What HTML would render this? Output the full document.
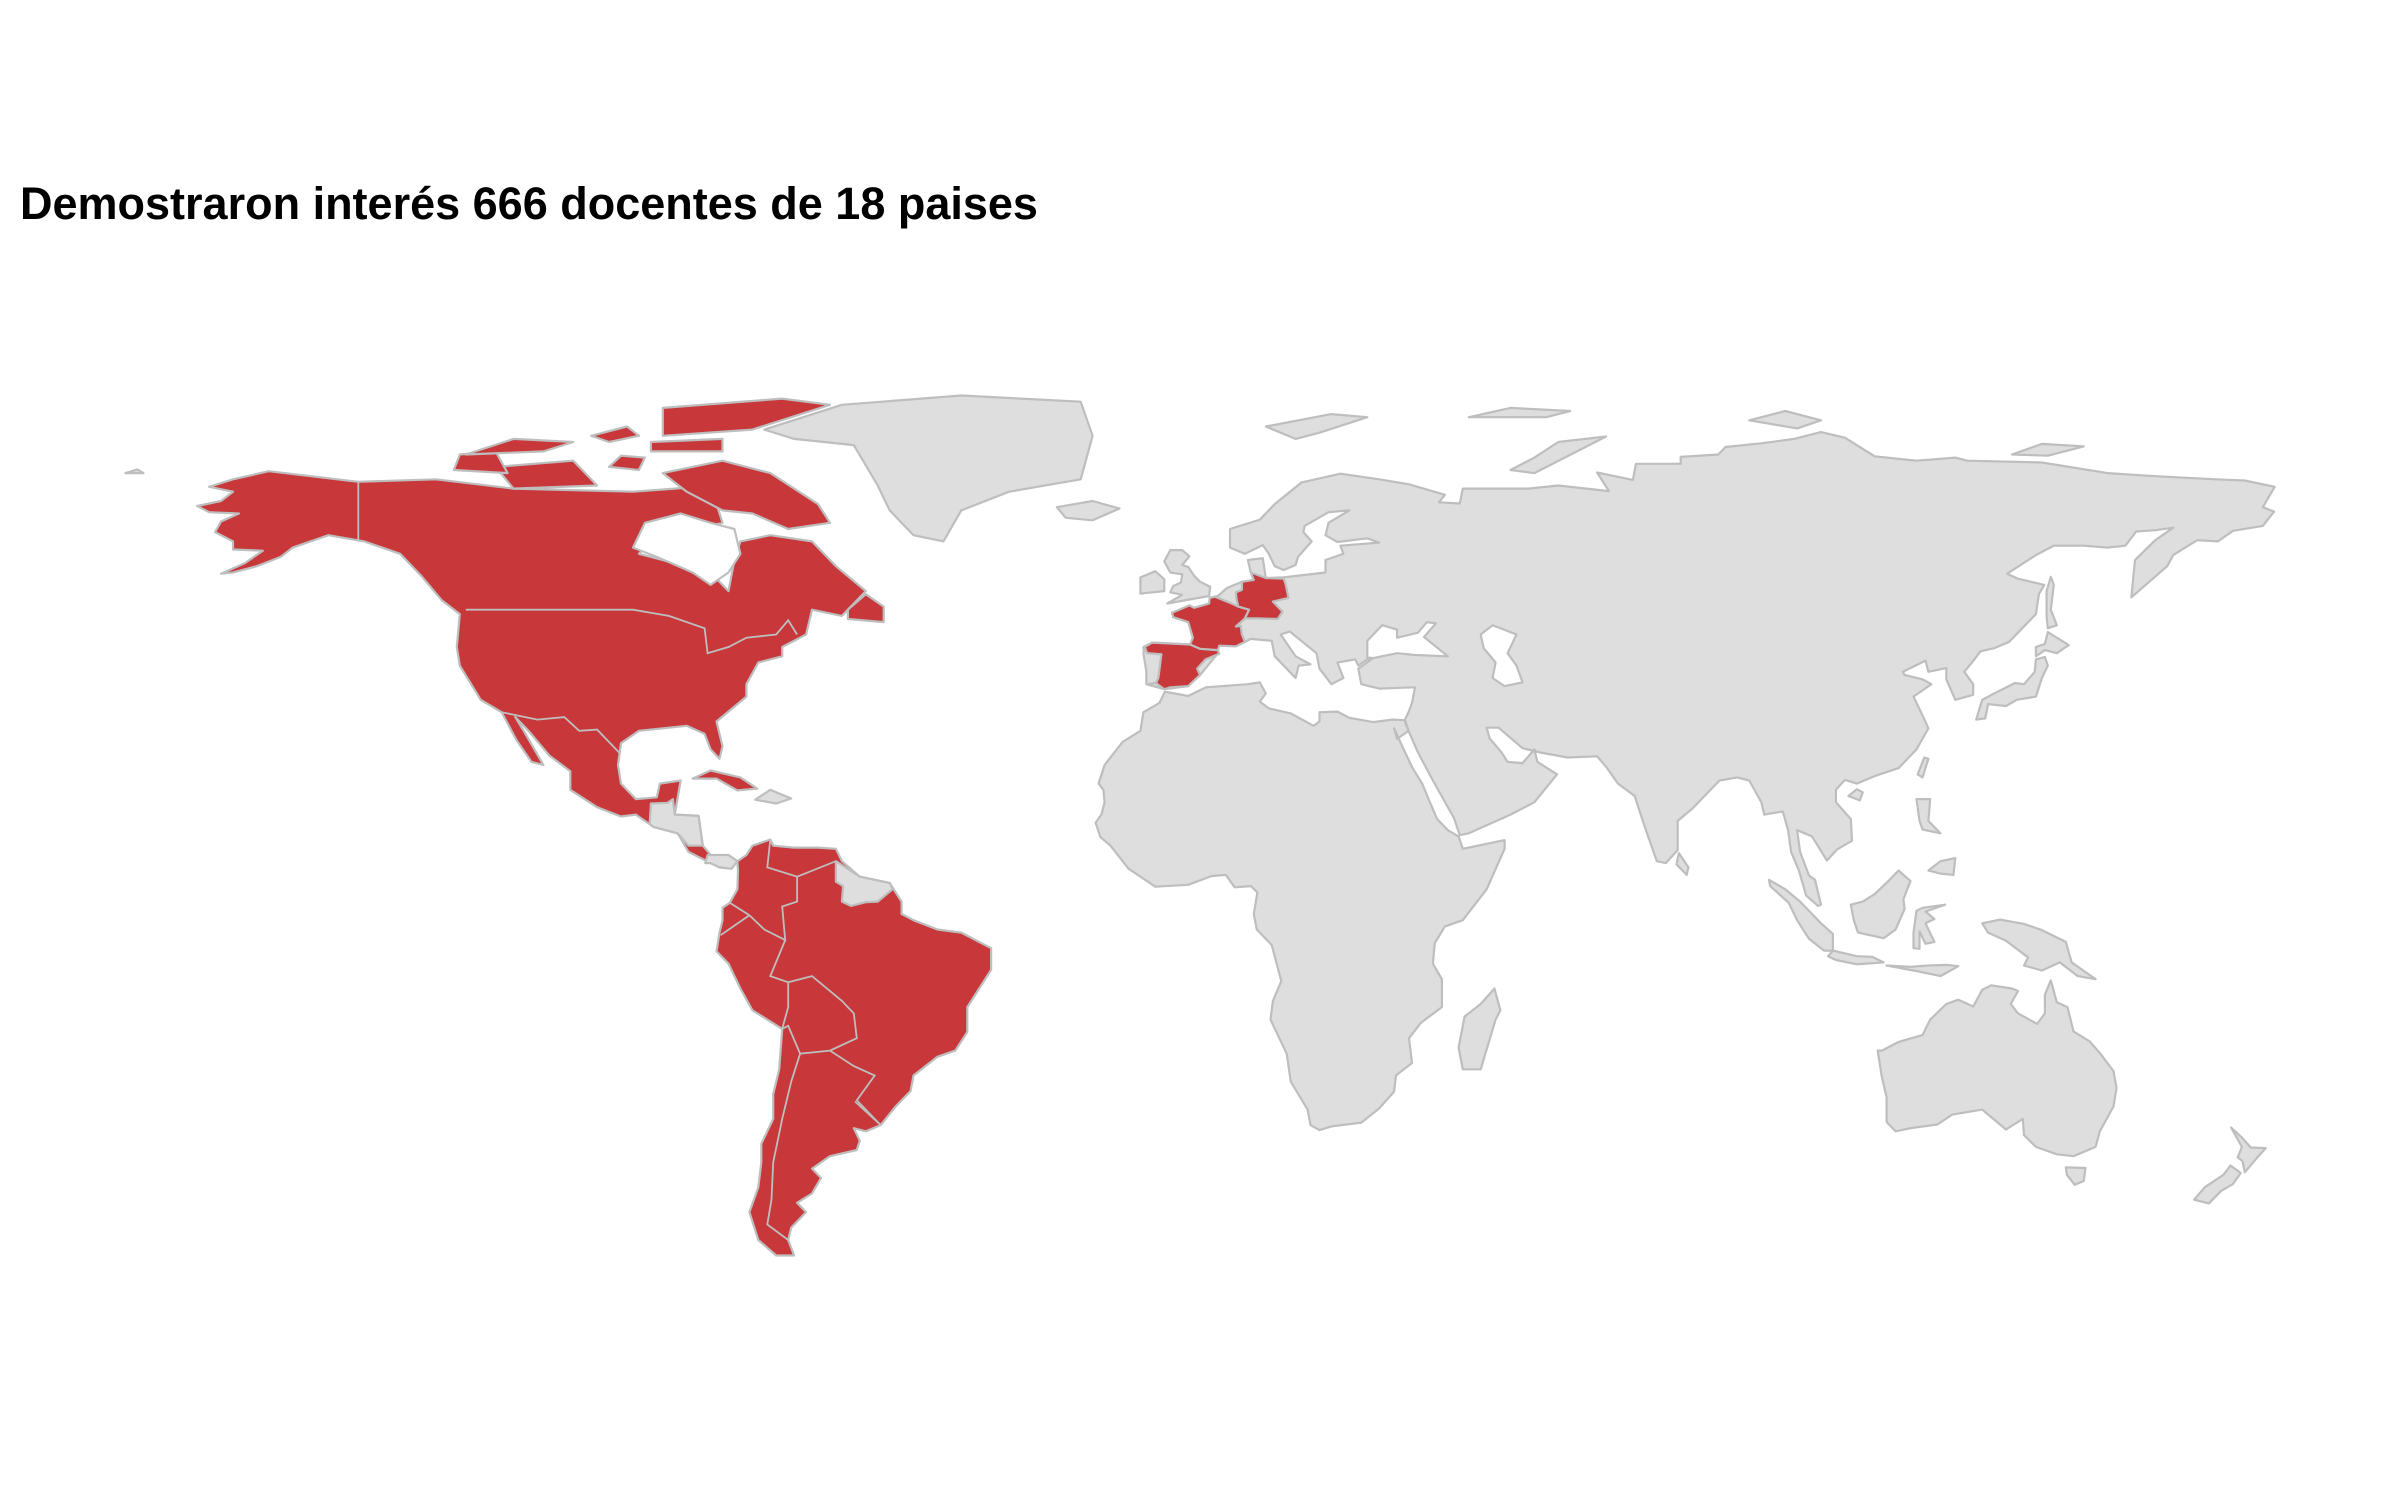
<!DOCTYPE html>
<html><head><meta charset="utf-8"><title>Mapa docentes</title>
<style>
html,body{margin:0;padding:0;background:#fff;}
#wrap{position:relative;width:2400px;height:1500px;overflow:hidden;}
#title{position:absolute;left:20px;top:178px;font:bold 45px "Liberation Sans",sans-serif;color:#000;white-space:nowrap;}
svg{position:absolute;left:0;top:0;}
</style></head>
<body>
<div id="wrap">
<div id="title">Demostraron interés 666 docentes de 18 paises</div>
<svg id="map" width="2400" height="1500"></svg>
</div>
<script>
// highlighted countries (data)
const highlighted = ["north-america","cuba","costa-rica","south-america","spain","france","germany","canada-arctic"];
const lakes = ["hudson-bay","caspian-sea","black-sea"];
const shapes = [
 ["north-america",[[-168,65.7],[-164,66.5],[-162,68],[-166,68.8],[-162,70],[-156,71.3],[-141,69.6],[-128,70],[-115,68.5],[-95,68],[-88,68.5],[-82,69],[-80,63],[-92,60],[-94,58],[-90,57],[-82,55],[-79,52],[-78,57],[-77,60],[-72,61],[-65,60],[-61,56],[-56,52],[-60,48],[-65,49],[-66,45],[-70,43],[-70,41.5],[-74,40.5],[-76,37],[-76,35],[-81,31],[-80,27],[-80.5,25],[-82,26.5],[-83,29],[-86,30.3],[-89,30],[-94,29.5],[-97,27.5],[-97.5,24],[-97,21],[-94.5,18.5],[-91,18.8],[-90.5,21],[-87,21.5],[-88,16],[-84,15.8],[-83.3,11],[-81.5,9],[-79,9.5],[-77.5,8.5],[-78.5,7.3],[-80.5,7.5],[-82,8.2],[-85.7,10],[-87.5,13],[-91.5,14],[-94.5,16],[-97,15.7],[-101,17.2],[-105.5,20],[-105.5,23],[-109,25.5],[-112.5,29.5],[-114.7,31.7],[-113,29],[-110,24],[-112,24.5],[-114.5,28],[-117,32.5],[-120.5,34.5],[-124,40],[-124.5,43],[-124,48.3],[-127,50.5],[-130.5,54.5],[-134,58],[-140,60],[-146,61],[-152,59],[-154,57.5],[-158,56],[-162,55],[-164,54.8],[-160,56.5],[-157,58.5],[-162,58.7],[-162,60],[-165,61.5],[-164,63.2],[-161,64.5],[-166,64.7]]],
 ["hudson-bay",[[-95,59],[-93,63],[-87,64.5],[-82,63],[-78,62],[-77,58],[-79,55],[-82,53],[-85,55],[-91,57.5]]],
 ["canada-arctic",[[-80,73],[-72,71],[-64,66],[-62,63],[-69,62],[-75,64.5],[-80,65],[-86,68],[-90,71]]],
 ["canada-arctic",[[-118,72],[-105,73],[-101,69],[-115,68.5]]],
 ["canada-arctic",[[-125,71.5],[-116,71],[-118,74.5],[-124,74]]],
 ["canada-arctic",[[-90,77],[-75,78],[-62,82],[-70,83],[-90,81.5]]],
 ["canada-arctic",[[-123,74],[-115,76.5],[-105,76],[-110,74.5]]],
 ["canada-arctic",[[-102,77],[-96,78.5],[-94,77],[-99,76]]],
 ["canada-arctic",[[-92,76],[-80,76.5],[-80,74.5],[-92,74.5]]],
 ["canada-arctic",[[-97,73.8],[-93,73.5],[-94,71.5],[-99,72]]],
 ["canada-arctic",[[-59,47.5],[-53,47],[-53,49.5],[-56,51.5],[-59,49]]],
 ["central-america",[[-92.2,14.5],[-92,17.8],[-89.2,17.9],[-88.3,18.5],[-88,16],[-84,15.8],[-83.3,11],[-85.7,11],[-87.5,13],[-91.5,14]]],
 ["panama",[[-82.9,8.2],[-82.5,9.5],[-79,9.5],[-77.5,8.5],[-78.5,7.3],[-80.5,7.5],[-82,8.2]]],
 ["greenland",[[-73,78],[-60,82],[-40,83.5],[-20,82.5],[-18,77],[-20,70],[-32,68],[-40,65],[-43,60],[-48,61],[-52,65],[-54,69],[-58,75.5],[-68,76.5]]],
 ["cuba",[[-85,21.8],[-82,23.1],[-77,22],[-74.2,20.2],[-77.5,19.9],[-81,21.8]]],
 ["hispaniola",[[-74.5,18.4],[-72,20],[-68.5,18.6],[-71,17.8]]],
 ["south-america",[[-77.5,8.5],[-76,9.5],[-75,11],[-72,12],[-71.5,11],[-68,10.7],[-64,10.7],[-61,10.5],[-60,8.5],[-57,6],[-52,5],[-50,2],[-50,0],[-48,-1],[-44,-2.5],[-40,-3],[-35,-5.5],[-35,-9],[-37,-12],[-39,-15],[-39,-19],[-41,-22],[-44,-23],[-48,-26],[-48.5,-28.5],[-51,-31],[-53.5,-34],[-56,-35],[-58,-34.5],[-57,-36.5],[-57.5,-38],[-62,-39],[-65,-41],[-63.5,-42.5],[-65,-45],[-67.5,-46.5],[-66,-48],[-68.5,-50.5],[-69,-52.5],[-68,-55],[-71,-55],[-74,-52.5],[-75.5,-48],[-74,-44],[-73.5,-40],[-73.5,-37],[-71.5,-33],[-71.5,-29],[-70.5,-25],[-70,-18.5],[-75,-15.5],[-77,-12],[-79,-8],[-81,-6],[-80.5,-3],[-80,-1],[-80,1],[-78.8,1.8],[-77.5,4],[-77.4,7]]],
 ["guianas",[[-61,8.5],[-57,6],[-52,5],[-51.5,4],[-54,2],[-56,1.9],[-58.5,1.3],[-60,2],[-59.8,4.5],[-61,5.2]]],
 ["eurasia",[[-9.5,43],[-9,39],[-9,37],[-6,36.2],[-2,36.7],[0,38.5],[3,42],[3,43.2],[6,43.1],[8.5,44.3],[12,44],[12.5,41.5],[16,38],[16.5,40],[18.5,40.2],[16,41.5],[13.5,45],[15,45.5],[19.5,42],[20,39.5],[22,37],[24,38],[23,40.5],[26,41],[26.5,40],[28,41],[29,41.2],[26.5,39.5],[27,37],[30,36.3],[36,36.5],[35.5,34],[34.9,32.5],[34.3,31.3],[34.9,29.5],[36.5,26],[39,21.5],[42.5,15.5],[43.5,12.7],[45,13],[52,16],[56,18],[59.8,22.5],[56.5,24.5],[56,26.5],[54,24.3],[51.5,24.5],[50.5,26],[48.5,28.3],[48,30],[50,30],[54,26.7],[57,26],[61.5,25.2],[66.5,25.4],[68,23.7],[70,21],[72.8,19],[74.5,14],[76.5,8.5],[78,8.2],[80,10.3],[80,15],[82.5,17],[87,21.5],[90,22],[92,21.5],[94,18],[94.5,16],[97.6,16.5],[98.5,13.5],[99,10],[100.3,7],[101.5,3],[103.5,1.3],[104,1.5],[103,5.5],[102,6.2],[100.5,10],[100,13.5],[102.5,12.5],[105,8.6],[106.7,10.4],[109.2,11.8],[109,15.3],[106.5,18],[106.5,20],[108,21.6],[110,21],[113,22.2],[117,23.5],[120,26.5],[122,29.9],[121,32],[119.5,35],[122.5,37],[121,37.8],[118,38.5],[117.7,39],[121.5,40.8],[122,39],[125,39.6],[125,37.8],[126.5,34.5],[129.5,35.3],[129.5,37],[128,39],[129.7,41],[130.7,42.3],[133,42.8],[135.5,43.8],[140,48.3],[140.5,51.5],[141.4,53],[137,54],[135.2,54.8],[140,57.8],[143,59.3],[148,59.3],[152,59],[155,59.3],[156.8,61.6],[160,61.8],[163,62.2],[160,60.2],[156.6,57],[156,51],[162,56],[163,57.8],[167,60.2],[170.5,60],[173,61.7],[178,62.5],[179.9,64.8],[178,65.5],[180,68.8],[175,69.8],[170,70],[160,70.5],[152,71],[141,72.7],[128.5,73],[126.5,73.5],[120,73],[113,73.7],[108,76.7],[104,77.6],[99.5,76.5],[94,75.8],[88,75.2],[86.8,74],[80.5,73.6],[80.5,72.5],[73,72.5],[72.5,69.9],[66.5,71.1],[68.5,68.1],[60,69],[55,68.5],[53.5,68.5],[44,68.5],[43.5,66.1],[40,66.3],[41,67.5],[35,69.2],[30,70],[23.5,70.9],[17,69.5],[12.5,66],[10,63.5],[5,62],[5,59],[7.5,58],[10.5,59.4],[11.5,58],[12.5,56],[14,55.4],[16,56.2],[16.4,57.5],[18.7,60],[17.3,61.5],[17.5,62.5],[21.5,64.7],[25,65],[21.5,63],[21,61],[23,59.9],[28,60.5],[30,59.8],[23.5,59.3],[24,58],[21,57],[21,56],[21,55],[14,54.2],[11,54.1],[10.5,57.3],[8,57],[8.5,55],[9,53.8],[7,53.5],[4.5,52.5],[3,51.2],[1.6,50.9],[1.5,50],[-1,49.3],[-1.8,49.7],[-4.5,48.5],[-4.5,47.8],[-2,47],[-1.2,44.5],[-1.7,43.4],[-8,43.7]]],
 ["caspian-sea",[[47,45],[49,46.5],[53,45],[51.5,42],[53,40],[54,37.3],[51,36.7],[49,38],[49.5,40.5],[47.5,42.8]]],
 ["black-sea",[[28,41.3],[28,44],[30.5,46.5],[33,45.8],[33,44.5],[36.5,45.3],[38,47],[39.5,46.8],[37.5,44.6],[41.5,41.5],[36,41.7],[33,42],[29,41.2]]],
 ["spain",[[-9.3,43],[-8.9,42],[-6.5,41.8],[-7,38],[-7.4,37.2],[-6,36.2],[-5,36.5],[-2,36.7],[0,38.5],[-0.5,39.5],[0.9,41],[3.2,41.9],[3,42.5],[0,42.7],[-1.7,43.4],[-8,43.7]]],
 ["portugal",[[-9.3,43],[-8.9,42],[-6.5,41.8],[-7,38],[-7.4,37.2],[-9,37],[-9,39],[-9.5,42]]],
 ["france",[[-1.7,43.4],[0,42.7],[3,42.5],[3.2,43.2],[6,43.1],[7.5,43.8],[7,45],[6.8,46.4],[6,46.3],[7.5,47.6],[8.2,49],[6.4,49.5],[4.8,50.2],[2.5,51.1],[1.6,50.9],[1.5,50],[-1,49.3],[-1.8,49.7],[-4.7,48.5],[-4.5,47.8],[-2,47],[-1.2,44.5]]],
 ["germany",[[6,51.8],[6.1,50.7],[6.4,49.5],[8.2,49],[7.5,47.6],[9.5,47.6],[13,47.5],[13.8,48.7],[12.2,50.3],[14.8,50.9],[14.3,53.2],[14,54],[11,54.1],[8.5,55],[9,53.8],[7,53.5],[7,52.2]]],
 ["great-britain",[[-5.5,50],[1.5,51.2],[1.7,52.7],[0,53.5],[-1,54.5],[-2,55.9],[-3,56.2],[-1.8,57.6],[-3,58.6],[-5,58.6],[-6,56.8],[-5,55],[-3,54.7],[-3.2,53.4],[-4.5,52.8],[-5,51.8],[-3,51.4]]],
 ["ireland",[[-10,51.6],[-6,52],[-6,53.9],[-7.5,55.2],[-10,54.2]]],
 ["iceland",[[-24,65.5],[-18,66.5],[-13.5,65.3],[-18,63.4],[-22.5,63.8]]],
 ["svalbard",[[11,78.5],[22,80.5],[28,80],[20,77.5],[16,76.5]]],
 ["franz-josef",[[45,80],[52,81.5],[62,81],[58,80]]],
 ["severnaya-zemlya",[[92,79.5],[98,81],[104,79.5],[100,78.2]]],
 ["new-siberian",[[136,74],[141,75.7],[148,75.3],[142,73.8]]],
 ["wrangel",[[-180,71],[-178,71.6],[-177,71]]],
 ["novaya-zemlya",[[52,71.5],[56,73.5],[60,76],[68,76.9],[56,71]]],
 ["japan",[[130,31.3],[131.5,31.5],[132,33.8],[135,33.5],[136.8,34.5],[140,35],[141,38],[142,40],[141.5,41.4],[140,41],[139.8,39],[138,37],[136.5,37.2],[133,35.5],[131,34.5]]],
 ["hokkaido",[[140,41.5],[141.5,42.5],[143.5,42],[145.5,43.3],[142,45.4],[141.5,43.5],[140,43]]],
 ["sakhalin",[[142,46],[143.5,46.5],[142.5,49],[143,53],[142.5,54.3],[141.8,52],[141.8,48]]],
 ["taiwan",[[120.2,22.5],[121,22],[122,25],[121.3,25.2]]],
 ["hainan",[[108.6,19],[110.5,18.3],[111,19.6],[110,20.1]]],
 ["sri-lanka",[[79.8,8],[81.5,6.3],[81.8,7.5],[80.2,9.8]]],
 ["africa",[[-17,21],[-16,24],[-13,27.7],[-10,29.5],[-9.5,32.5],[-6.8,34],[-5.9,35.8],[-2,35.1],[1,36.5],[8,37],[10,37.3],[11,35.5],[10,34.2],[11.5,33.1],[15.2,32.3],[19,30.3],[20,31],[20,32.5],[23,32.6],[25,31.6],[29,30.9],[32.2,31.3],[34.2,31.2],[34.9,29.5],[33,28.2],[32.5,29.9],[34,26.7],[35.6,23.5],[37.2,21],[38.5,18],[39.7,15.3],[41.5,13.5],[43.3,12.5],[44,10.5],[51,11.9],[51,10.5],[48,4],[44,-1],[41,-2],[39.3,-4.7],[39,-8],[40.5,-10.5],[40.5,-15],[37,-17.5],[35,-20],[35.5,-24],[32.8,-26],[32.5,-28.6],[30,-31.3],[27,-33.6],[22,-34.2],[20,-34.8],[18.5,-34],[18,-31.5],[15.2,-27],[14.5,-22.5],[11.8,-17],[12.2,-14],[13.6,-10.8],[12,-5],[9.5,-2.5],[9,0],[9.6,3.5],[8.5,4.5],[5.8,4.3],[4.3,6.3],[1.9,6.1],[-2,4.7],[-7.5,4.4],[-12,7.3],[-13.2,8.8],[-15,11],[-16.7,12.4],[-17.5,14.7],[-16.5,16.1],[-16,18],[-16.2,20]]],
 ["madagascar",[[44,-25],[47,-25],[49.5,-17],[50.3,-15.5],[49.3,-12],[47,-14.5],[44.3,-16.5],[43.3,-21.5]]],
 ["australia",[[113.5,-22],[114.2,-26.3],[115,-29.5],[115,-33.5],[116.5,-35],[119,-34.5],[123.5,-33.9],[126,-32.3],[131,-31.5],[135,-34.7],[137.8,-33],[138,-35.6],[140,-37.5],[143.5,-38.7],[146.3,-39],[150,-37.5],[150.7,-35],[153,-31],[153.5,-28],[153,-25.3],[150.8,-22.5],[149,-20.5],[146.3,-18.9],[145.3,-15],[143.5,-14.2],[142.5,-10.7],[141.5,-13],[141.5,-16],[140.2,-17.7],[137,-16],[135.8,-14.5],[137,-12.4],[136,-12],[132.5,-11.5],[131,-12.2],[129.5,-14.9],[127,-13.8],[125,-14.5],[122.3,-17],[121,-19.5],[117,-20.6],[114.2,-22]]],
 ["tasmania",[[145,-40.8],[148.3,-40.9],[148,-43],[146.5,-43.6],[145.2,-42]]],
 ["nz-north",[[172.7,-34.4],[174.5,-36],[176,-37.6],[178.5,-37.7],[177,-39.3],[175,-41.6],[174.6,-39.8],[173.8,-39.2],[174.5,-37.5]]],
 ["nz-south",[[172.6,-40.5],[174.3,-41.7],[173,-43.5],[171,-44.6],[169,-46.6],[166.5,-46],[168.3,-44],[171.4,-42]]],
 ["sumatra",[[95.3,5.5],[98,4],[100.5,2],[104,-1.5],[106,-3.2],[106,-5.9],[104.5,-5.9],[102,-4],[100,-1],[98.6,1.8],[95.5,4.5]]],
 ["java",[[105.2,-6.8],[106,-5.9],[110,-6.8],[112.6,-6.9],[114.5,-7.8],[110,-8.1],[106.5,-7.4]]],
 ["lesser-sunda",[[115,-8.3],[119,-8.5],[122,-8.3],[125,-8.2],[127,-8.4],[124,-10],[120,-9.2]]],
 ["borneo",[[109,1.5],[109.5,-1],[110.2,-3],[114.5,-3.9],[116.5,-2.5],[118,0.8],[117.8,2.4],[119,5.3],[117,7],[115.5,5.5],[113,3.2],[111,2]]],
 ["sulawesi",[[119.5,-5.5],[119.5,-3],[120,0.5],[121,1],[124.8,1.5],[121.5,0.4],[123,-0.8],[121.5,-1.5],[123,-4.5],[121.5,-4.8],[120.5,-2.8],[120.5,-5.6]]],
 ["new-guinea",[[131,-1.5],[134,-0.9],[138,-1.6],[141,-2.6],[145,-4.5],[146,-7.8],[150,-10.5],[147,-10],[144,-7.8],[141,-9.1],[138,-8.3],[138.7,-7],[135,-4.3],[132,-3]]],
 ["luzon",[[120,18.5],[122.3,18.5],[122,15],[124,13],[121,13.6],[120.5,15]]],
 ["mindanao",[[122,7],[124,6.5],[126.2,6.3],[126.5,9],[124,8.5]]]
];
// internal border lines (lon/lat)
const borders = [
 [[-141,69.6],[-141,60]],
 [[-123,49],[-95,49],[-89,48],[-83,46],[-82.5,42],[-79,43],[-76,44.5],[-71,45],[-69,47.3],[-67.5,45]],
 [[-117,32.5],[-111,31.3],[-106.5,31.7],[-104,29.5],[-101,29.7],[-97.2,25.9]],
 [[-72,12],[-72.5,7.5],[-67.5,6],[-67.5,2],[-70,1.2],[-69.5,-4.2],[-73,-2.5],[-75.5,-0.2],[-78.8,1.8]],
 [[-80.3,-3.4],[-75.5,-0.2]],
 [[-69.5,-4.2],[-72,-10],[-69,-11],[-69,-15],[-70,-18.5]],
 [[-69,-11],[-65,-10],[-60,-14],[-58,-16],[-57.5,-20],[-62,-22],[-67,-22.5],[-69,-18],[-70,-18.5]],
 [[-62,-22],[-58,-24.5],[-54.5,-26],[-57.5,-30],[-53.5,-34]],
 [[-67,-22.5],[-68.5,-27],[-70,-33],[-71.5,-40],[-71.8,-46],[-72.5,-50],[-69,-52.5]],
 [[-53.5,-34],[-57.8,-30.2]],
 [[-67.5,6],[-61,8.5]]
];

const x0 = 125.5, pxPerLon = 5.97, y0 = 914, pxPerLat = 6.21;
function xs(lon){ return x0 + (lon + 180) * pxPerLon; }
function ys(lat){ return y0 - lat * pxPerLat; }
const svg = document.getElementById('map');
const NS = 'http://www.w3.org/2000/svg';
function pts(arr){ return arr.map(p => xs(p[0]).toFixed(1) + ',' + ys(p[1]).toFixed(1)).join(' '); }
shapes.forEach(s => {
  const name = s[0];
  const el = document.createElementNS(NS, 'polygon');
  el.setAttribute('points', pts(s[1]));
  let fill = '#DEDEDE';
  if (highlighted.includes(name)) fill = '#C8373A';
  if (lakes.includes(name)) fill = '#FFFFFF';
  el.setAttribute('fill', fill);
  el.setAttribute('stroke', '#BEBEBE');
  el.setAttribute('stroke-width', '2.2');
  el.setAttribute('stroke-linejoin', 'round');
  
  
  svg.appendChild(el);
});
borders.forEach((b, i) => {
  const el = document.createElementNS(NS, 'polyline');
  el.setAttribute('points', pts(b));
  el.setAttribute('fill', 'none');
  el.setAttribute('stroke', '#BEBEBE');
  el.setAttribute('stroke-width', '1.8');
  
  
  svg.appendChild(el);
});
</script>
</body></html>
